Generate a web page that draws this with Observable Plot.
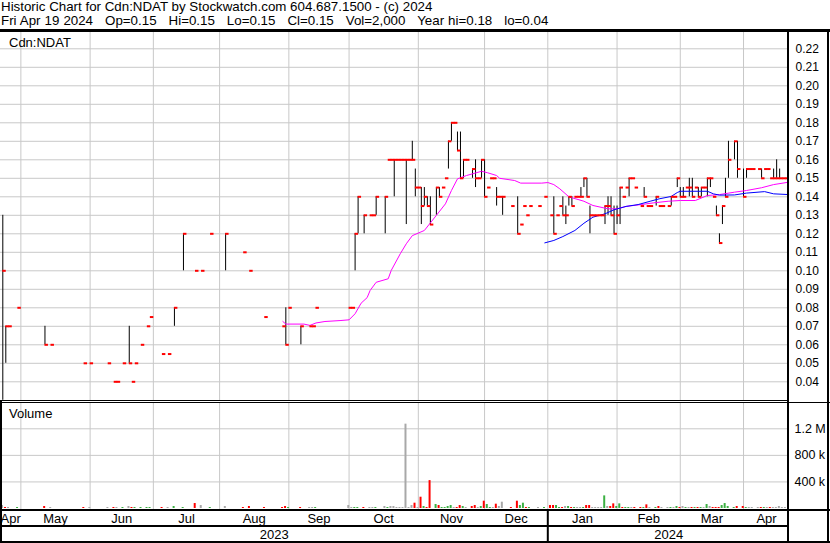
<!DOCTYPE html>
<html><head><meta charset="utf-8">
<script src="https://cdn.jsdelivr.net/npm/d3@7"></script>
<script src="https://cdn.jsdelivr.net/npm/@observablehq/plot@0.6"></script>
<style>
html,body{margin:0;padding:0;background:#fff;}
#wrap{position:relative;width:830px;height:543px;overflow:hidden;background:#fff;font-family:"Liberation Sans",Arial,Helvetica,sans-serif;color:#000;}
.abs{position:absolute;}
.txt{position:absolute;white-space:pre;line-height:13px;}
.ln{position:absolute;background:#000;}
svg{display:block;}
</style></head>
<body><div id="wrap"></div>
<script>
// ---------------- DATA ----------------
const title1 = "Historic Chart for Cdn:NDAT by Stockwatch.com 604.687.1500 - (c) 2024";
const title2 = "Fri Apr 19 2024   Op=0.15   Hi=0.15   Lo=0.15   Cl=0.15   Vol=2,000   Year hi=0.18   lo=0.04";
const symbolLabel = "Cdn:NDAT";
const volumeLabel = "Volume";

const dates = [
"2023-04-20","2023-04-21","2023-04-24","2023-04-27","2023-05-10","2023-05-12","2023-05-29","2023-05-31",
"2023-06-08","2023-06-12","2023-06-13","2023-06-15","2023-06-19","2023-06-20","2023-06-21","2023-06-23","2023-06-27","2023-06-28",
"2023-07-04","2023-07-06","2023-07-10","2023-07-13","2023-07-19","2023-07-21","2023-07-26",
"2023-08-02","2023-08-10","2023-08-14","2023-08-21","2023-08-29","2023-08-30","2023-08-31",
"2023-09-06","2023-09-11","2023-09-12","2023-09-13","2023-09-28","2023-09-29",
"2023-10-02","2023-10-03","2023-10-05","2023-10-09","2023-10-10","2023-10-11","2023-10-16","2023-10-17","2023-10-18","2023-10-19","2023-10-20","2023-10-23","2023-10-24","2023-10-25","2023-10-26","2023-10-27","2023-10-30","2023-10-31",
"2023-11-01","2023-11-02","2023-11-03","2023-11-06","2023-11-08","2023-11-09","2023-11-10","2023-11-13","2023-11-14","2023-11-15","2023-11-16","2023-11-17","2023-11-20","2023-11-21","2023-11-22","2023-11-24","2023-11-27","2023-11-28","2023-11-29","2023-11-30",
"2023-12-01","2023-12-04","2023-12-05","2023-12-06","2023-12-07","2023-12-08","2023-12-13","2023-12-15","2023-12-18","2023-12-19","2023-12-20","2023-12-21","2023-12-26","2023-12-28",
"2024-01-01","2024-01-02","2024-01-03","2024-01-04","2024-01-05","2024-01-08","2024-01-09","2024-01-10","2024-01-11","2024-01-12","2024-01-15","2024-01-16","2024-01-17","2024-01-18","2024-01-19","2024-01-22","2024-01-23","2024-01-24","2024-01-25","2024-01-26","2024-01-29","2024-01-30","2024-01-31",
"2024-02-01","2024-02-02","2024-02-05","2024-02-06","2024-02-07","2024-02-08","2024-02-12","2024-02-13","2024-02-14","2024-02-15","2024-02-19","2024-02-20","2024-02-21","2024-02-23","2024-02-26","2024-02-27","2024-02-28","2024-02-29",
"2024-03-01","2024-03-04","2024-03-05","2024-03-06","2024-03-07","2024-03-08","2024-03-11","2024-03-12","2024-03-13","2024-03-14","2024-03-15","2024-03-18","2024-03-19","2024-03-20","2024-03-21","2024-03-22","2024-03-26","2024-03-27","2024-03-29",
"2024-04-01","2024-04-02","2024-04-03","2024-04-05","2024-04-08","2024-04-09","2024-04-10","2024-04-11","2024-04-12","2024-04-15","2024-04-16","2024-04-17","2024-04-18","2024-04-19"];

const high = [
0.13,0.07,0.07,0.08,0.07,0.06,0.05,0.05,
0.05,0.04,0.04,0.05,0.07,0.04,0.05,0.06,0.07,0.075,
0.055,0.055,0.08,0.12,0.10,0.10,0.12,
0.12,0.11,0.10,0.075,0.07,0.08,0.08,
0.07,0.07,0.07,0.08,0.08,0.08,
0.12,0.14,0.13,0.13,0.13,0.14,0.14,0.16,0.16,0.16,0.16,0.16,0.16,0.16,0.16,0.17,0.155,0.145,
0.145,0.145,0.14,0.14,0.145,0.145,0.145,0.15,0.17,0.18,0.18,0.175,0.175,0.16,0.16,0.155,0.16,0.15,0.16,0.16,
0.145,0.15,0.15,0.145,0.14,0.14,0.135,0.14,0.125,0.135,0.13,0.135,0.135,0.14,
0.13,0.14,0.13,0.135,0.14,0.135,0.14,0.14,0.14,0.14,0.145,0.15,0.15,0.135,0.13,0.13,0.13,0.13,0.135,0.14,0.14,0.135,0.135,
0.145,0.14,0.145,0.15,0.15,0.145,0.135,0.145,0.135,0.135,0.14,0.135,0.135,0.135,0.14,0.14,0.15,0.145,
0.145,0.145,0.15,0.15,0.145,0.145,0.145,0.145,0.15,0.15,0.14,0.135,0.12,0.135,0.15,0.17,0.17,0.17,0.155,
0.155,0.155,0.155,0.155,0.155,0.155,0.155,0.15,0.155,0.16,0.155,0.15,0.15,0.15];

const low = [
0.03,0.05,0.07,0.08,0.06,0.06,0.05,0.05,
0.05,0.04,0.04,0.05,0.05,0.04,0.05,0.06,0.07,0.075,
0.055,0.055,0.07,0.10,0.10,0.10,0.12,
0.10,0.11,0.10,0.075,0.07,0.06,0.08,
0.06,0.07,0.07,0.08,0.08,0.08,
0.10,0.12,0.12,0.13,0.13,0.13,0.12,0.16,0.16,0.14,0.16,0.16,0.16,0.125,0.16,0.16,0.14,0.145,
0.125,0.135,0.135,0.125,0.13,0.14,0.145,0.15,0.155,0.17,0.18,0.165,0.15,0.15,0.16,0.15,0.145,0.15,0.15,0.14,
0.145,0.15,0.15,0.135,0.14,0.13,0.135,0.12,0.125,0.135,0.13,0.135,0.135,0.14,
0.13,0.12,0.13,0.135,0.13,0.125,0.135,0.135,0.14,0.14,0.14,0.145,0.14,0.12,0.13,0.13,0.13,0.13,0.125,0.13,0.13,0.12,0.125,
0.125,0.14,0.145,0.14,0.15,0.145,0.135,0.14,0.135,0.135,0.135,0.135,0.135,0.135,0.135,0.14,0.145,0.14,
0.14,0.145,0.14,0.14,0.145,0.14,0.14,0.145,0.14,0.145,0.14,0.13,0.115,0.125,0.14,0.15,0.16,0.15,0.14,
0.15,0.155,0.155,0.155,0.15,0.155,0.155,0.15,0.15,0.15,0.15,0.15,0.15,0.15];

const close = [
0.10,0.07,0.07,0.08,0.06,0.06,0.05,0.05,
0.05,0.04,0.04,0.05,0.05,0.04,0.05,0.06,0.07,0.075,
0.055,0.055,0.08,0.12,0.10,0.10,0.12,
0.12,0.11,0.10,0.075,0.07,0.06,0.08,
0.07,0.07,0.07,0.08,0.08,0.08,
0.12,0.14,0.13,0.13,0.13,0.14,0.14,0.16,0.16,0.16,0.16,0.16,0.16,0.16,0.16,0.16,0.145,0.145,
0.135,0.14,0.135,0.125,0.145,0.14,0.145,0.15,0.17,0.18,0.18,0.165,0.15,0.16,0.16,0.155,0.15,0.15,0.16,0.14,
0.145,0.15,0.15,0.14,0.14,0.14,0.135,0.12,0.125,0.135,0.13,0.135,0.135,0.14,
0.13,0.12,0.13,0.135,0.13,0.13,0.14,0.135,0.14,0.14,0.14,0.15,0.14,0.13,0.13,0.13,0.13,0.13,0.135,0.135,0.13,0.12,0.13,
0.145,0.14,0.145,0.15,0.15,0.145,0.135,0.14,0.135,0.135,0.14,0.135,0.135,0.135,0.14,0.14,0.15,0.14,
0.14,0.145,0.145,0.14,0.145,0.14,0.145,0.145,0.15,0.15,0.14,0.13,0.115,0.135,0.14,0.16,0.17,0.155,0.14,
0.155,0.155,0.155,0.155,0.15,0.155,0.155,0.15,0.15,0.15,0.15,0.15,0.15,0.15];

const volume = [
45000,15000,15000,15000,30000,15000,15000,15000,
15000,15000,15000,15000,30000,15000,15000,15000,15000,15000,
15000,15000,30000,15000,75000,45000,15000,
30000,15000,30000,15000,15000,30000,15000,
15000,15000,15000,15000,45000,15000,
15000,15000,15000,15000,15000,15000,30000,15000,30000,30000,15000,15000,15000,1270000,15000,45000,80000,15000,
170000,30000,15000,420000,60000,45000,15000,15000,30000,45000,15000,15000,45000,30000,15000,30000,45000,15000,30000,110000,
60000,15000,15000,65000,30000,95000,15000,110000,45000,80000,15000,15000,15000,15000,
45000,45000,45000,15000,15000,30000,30000,15000,15000,15000,15000,15000,45000,45000,15000,15000,15000,15000,190000,30000,30000,70000,30000,
70000,15000,15000,15000,15000,15000,15000,15000,55000,15000,15000,30000,15000,15000,15000,15000,30000,15000,
30000,15000,15000,15000,15000,15000,15000,15000,60000,30000,15000,15000,15000,45000,75000,30000,15000,30000,30000,
15000,15000,15000,15000,15000,15000,15000,15000,15000,15000,30000,15000,15000,2000];

// moving averages (date, value)
const maShortDates = ["2023-08-29","2023-08-30","2023-09-07","2023-09-11","2023-09-13","2023-09-18","2023-09-25","2023-09-28","2023-10-02","2023-10-04","2023-10-06","2023-10-09","2023-10-11","2023-10-17","2023-10-18","2023-10-23","2023-10-25","2023-10-27","2023-11-02","2023-11-08","2023-11-13","2023-11-15","2023-11-17","2023-11-22","2023-11-29","2023-12-01","2023-12-06","2023-12-07","2023-12-14","2023-12-18","2023-12-27","2023-12-29","2024-01-02","2024-01-04","2024-01-09","2024-01-16","2024-01-19","2024-01-26","2024-01-31","2024-02-05","2024-02-12","2024-02-16","2024-02-23","2024-02-29","2024-03-07","2024-03-13","2024-03-19","2024-03-26","2024-04-01","2024-04-08","2024-04-12","2024-04-19"];
const maShortValues = [0.0726,0.0712,0.0712,0.0705,0.0718,0.0726,0.0731,0.0735,0.0768,0.0825,0.0855,0.0894,0.0938,0.0957,0.1002,0.1092,0.1146,0.119,0.1218,0.130,0.1362,0.1434,0.1497,0.1515,0.1538,0.153,0.1515,0.150,0.1488,0.1474,0.1474,0.1477,0.1466,0.1443,0.140,0.1376,0.1353,0.1335,0.1335,0.1348,0.1358,0.1367,0.1376,0.138,0.138,0.1407,0.1412,0.1425,0.1434,0.1449,0.1466,0.1479];
const maLongDates = ["2023-12-28","2024-01-02","2024-01-05","2024-01-11","2024-01-16","2024-01-19","2024-01-25","2024-01-30","2024-02-05","2024-02-09","2024-02-15","2024-02-20","2024-02-26","2024-02-28","2024-02-29","2024-03-13","2024-03-15","2024-03-19","2024-03-26","2024-04-01","2024-04-09","2024-04-12","2024-04-19"];
const maLongValues = [0.1151,0.1164,0.1185,0.1218,0.1257,0.129,0.1308,0.133,0.1348,0.1358,0.1376,0.1389,0.1402,0.1423,0.143,0.143,0.1416,0.1409,0.141,0.142,0.1428,0.1416,0.1412];

const priceTicks = [0.04,0.05,0.06,0.07,0.08,0.09,0.10,0.11,0.12,0.13,0.14,0.15,0.16,0.17,0.18,0.19,0.20,0.21,0.22];
const volumeTicks = [400000, 800000, 1200000];
const volumeTickLabels = ["400 k", "800 k", "1.2 M"];
const monthNames = ["Apr","May","Jun","Jul","Aug","Sep","Oct","Nov","Dec","Jan","Feb","Mar","Apr"];
const monthStarts = ["2023-05-01","2023-06-01","2023-07-01","2023-08-01","2023-09-01","2023-10-01","2023-11-01","2023-12-01","2024-01-01","2024-02-01","2024-03-01","2024-04-01"];
const yearNames = ["2023","2024"];
const yearStart = "2024-01-01";
const firstDay = "2023-04-20";

// ---------------- HELPERS ----------------
const DAY = 86400000;
const t0 = Date.parse(firstDay + "T00:00:00Z");
// index of weekday slot (the chart uses one slot per weekday)
function slot(s) {
  const t = Date.parse(s + "T00:00:00Z");
  let n = 0;
  for (let d = t0; d < t; d += DAY) { const w = new Date(d).getUTCDay(); if (w !== 0 && w !== 6) n++; }
  return n;
}
function isWeekend(s) { const w = new Date(Date.parse(s + "T00:00:00Z")).getUTCDay(); return w === 0 || w === 6; }
function boundary(s) { return slot(s) - (isWeekend(s) ? 2 : 1); }

const bars = dates.map((d, k) => ({i: slot(d), hi: high[k], lo: low[k], close: close[k], vol: volume[k]}));
bars.forEach((b, k) => {
  const prev = k > 0 ? bars[k - 1].close : b.close;
  b.color = b.close > prev + 1e-9 ? "#3cb043" : b.close < prev - 1e-9 ? "#ff0000" : "#a8a8a8";
});
const maShort = maShortDates.map((d, k) => ({i: slot(d), v: maShortValues[k]}));
const maLong = maLongDates.map((d, k) => ({i: slot(d), v: maLongValues[k]}));

const xDomain = [-0.764, 261.27];
const grid = monthStarts.map(boundary);
const bounds = [xDomain[0], ...grid, xDomain[1]];
const monthLabels = monthNames.map((n, k) => ({x: (bounds[k] + bounds[k + 1]) / 2, name: n}));
const yb = boundary(yearStart);
const yearLabels = [{x: (xDomain[0] + yb) / 2, name: yearNames[0]}, {x: (yb + xDomain[1]) / 2, name: yearNames[1]}];

const FONT = '"Liberation Sans", Arial, Helvetica, sans-serif';
const GRID = "#c8c8c8";
const base = {width: 830, marginLeft: 0, marginRight: 41, marginTop: 0, marginBottom: 0,
  x: {type: "linear", domain: xDomain, axis: null}};
const st = (fs) => ({fontFamily: FONT, fontSize: fs + "px", color: "#000", background: "transparent", overflow: "visible"});

// ---------------- PRICE PANEL ----------------
const price = Plot.plot({
  ...base, height: 368,
  y: {domain: [0.029892, 0.228811], axis: null},
  style: st(12),
  marks: [
    Plot.ruleY(priceTicks, {stroke: GRID, strokeWidth: 1}),
    Plot.ruleX(grid, {stroke: GRID, strokeWidth: 1}),
    Plot.ruleX(bars.filter(b => b.hi > b.lo), {x: "i", y1: "lo", y2: "hi", stroke: "#000", strokeWidth: 1, clip: true}),
    Plot.line(maShort, {x: "i", y: "v", stroke: "#ff00ff", strokeWidth: 1, curve: "linear"}),
    Plot.line(maLong, {x: "i", y: "v", stroke: "#0000ff", strokeWidth: 1, curve: "linear"}),
    Plot.ruleY(bars, {y: "close", x1: "i", x2: d => d.i + 1.15, stroke: "#ff0000", strokeWidth: 2, clip: true}),
    Plot.axisY(priceTicks, {anchor: "right", label: null, tickSize: 0, tickPadding: 6, tickFormat: d => d.toFixed(2), fontSize: 12, fill: "#000"})
  ]
});

// ---------------- VOLUME PANEL ----------------
const vol = Plot.plot({
  ...base, height: 106,
  y: {domain: [-15056, 1580924], axis: null},
  color: {type: "identity"},
  style: st(12.5),
  marks: [
    Plot.ruleY(volumeTicks, {stroke: GRID, strokeWidth: 1}),
    Plot.ruleX(grid, {stroke: GRID, strokeWidth: 1}),
    Plot.rect(bars, {x1: d => d.i - 0.43, x2: d => d.i + 0.23, y1: 0, y2: "vol", fill: "color"}),
    Plot.axisY(volumeTicks, {anchor: "right", label: null, tickSize: 0, tickPadding: 5, tickFormat: d => volumeTickLabels[volumeTicks.indexOf(d)], fontSize: 12.5, fill: "#000"})
  ]
});

// ---------------- DATE BANDS ----------------
const months = Plot.plot({
  ...base, height: 16,
  y: {axis: null},
  style: st(13),
  marks: [
    Plot.text(monthLabels, {x: "x", text: "name", frameAnchor: "middle", fontSize: 13, fill: "#000"}),
    Plot.ruleX([yb], {stroke: "#000", strokeWidth: 2})
  ]
});
const years = Plot.plot({
  ...base, height: 14,
  y: {axis: null},
  style: st(13),
  marks: [
    Plot.text(yearLabels, {x: "x", text: "name", frameAnchor: "middle", fontSize: 13, fill: "#000"}),
    Plot.ruleX([yb], {stroke: "#000", strokeWidth: 2})
  ]
});

// ---------------- ASSEMBLE ----------------
const wrap = document.getElementById("wrap");
function place(el, top) { const d = document.createElement("div"); d.className = "abs"; d.style.left = "0px"; d.style.top = top + "px"; d.appendChild(el); wrap.appendChild(d); }
function text(s, left, top, fs, ws) { const d = document.createElement("div"); d.className = "txt"; d.style.left = left + "px"; d.style.top = top + "px"; d.style.fontSize = fs + "px"; if (ws) d.style.wordSpacing = ws + "px"; d.textContent = s; wrap.appendChild(d); }
function line(l, t, w, h) { const d = document.createElement("div"); d.className = "ln"; Object.assign(d.style, {left: l + "px", top: t + "px", width: w + "px", height: h + "px"}); wrap.appendChild(d); }

place(price, 32);
place(vol, 403);
place(months, 510);
place(years, 527);

text(title1, 1, 0, 13.33);
text(title2, 1, 14, 13.33, 0.3);
text(symbolLabel, 9, 36, 13);
text(volumeLabel, 9, 407, 13);

line(0, 29, 830, 3);      // top rule
line(0, 400, 789, 1);     // price/volume separator (double)
line(0, 402, 830, 1);
line(0, 509, 830, 2);     // below volume
line(0, 525, 789, 2);     // below month labels
line(0, 541, 830, 2);     // bottom border
line(0, 400, 2, 143);     // left border (lower part)
line(787, 29, 2, 514);    // right axis line
line(827, 29, 2, 514);    // right outer border
</script>
</body></html>
